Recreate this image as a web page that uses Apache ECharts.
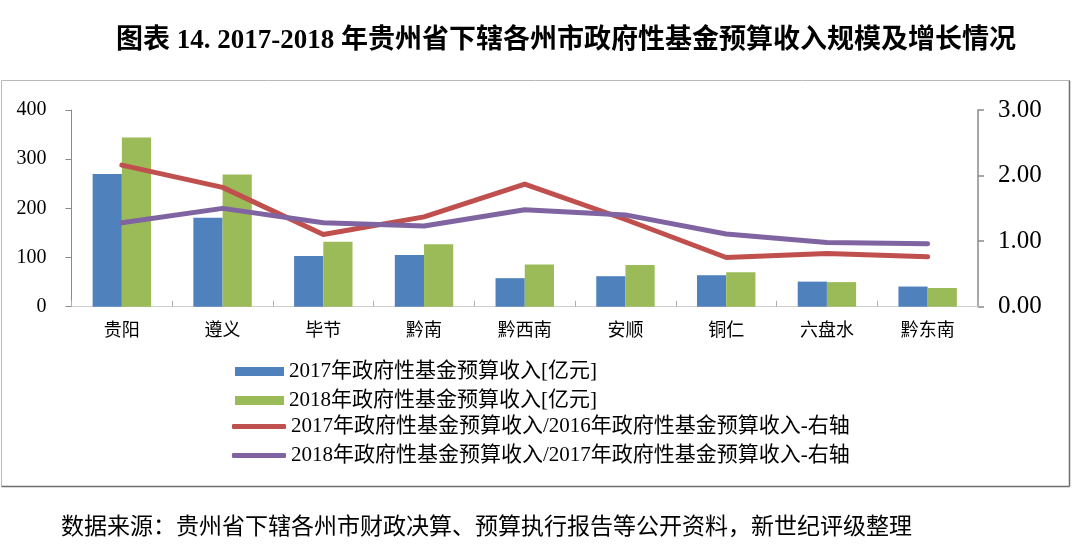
<!DOCTYPE html>
<html>
<head>
<meta charset="utf-8">
<script src="https://cdn.jsdelivr.net/npm/echarts@6/dist/echarts.min.js"></script>
<style>html,body{margin:0;padding:0;background:#fff;}#c{width:1080px;height:559px;}</style>
</head>
<body>
<div id="c"></div>
<script>
const categories = ['贵阳', '遵义', '毕节', '黔南', '黔西南', '安顺', '铜仁', '六盘水', '黔东南'];
const rev2017 = [270, 181, 103, 105, 58, 62, 64, 51, 41];
const rev2018 = [344, 269, 132, 127, 86, 85, 70, 50, 38];
const ratio2017 = [2.16, 1.82, 1.10, 1.37, 1.87, 1.33, 0.75, 0.81, 0.76];
const ratio2018 = [1.28, 1.50, 1.28, 1.23, 1.48, 1.40, 1.11, 0.98, 0.96];
const seriesNames = [
  '2017年政府性基金预算收入[亿元]',
  '2018年政府性基金预算收入[亿元]',
  '2017年政府性基金预算收入/2016年政府性基金预算收入-右轴',
  '2018年政府性基金预算收入/2017年政府性基金预算收入-右轴'
];
const titleText = '图表 14. 2017-2018 年贵州省下辖各州市政府性基金预算收入规模及增长情况';
const sourceText = '数据来源：贵州省下辖各州市财政决算、预算执行报告等公开资料，新世纪评级整理';
const leftTicks = {min: 0, max: 400, interval: 100};
const rightTicks = {min: 0, max: 3, interval: 1};

const FONT = "'Liberation Serif', 'Times New Roman', 'Noto Sans CJK SC', serif";
const chart = echarts.init(document.getElementById('c'));
chart.setOption({
  animation: false,
  backgroundColor: '#fff',
  textStyle: {fontFamily: FONT, color: '#000'},
  graphic: [
    {type: 'line', shape: {x1: 1.5, y1: 80.5, x2: 1069.5, y2: 80.5}, style: {stroke: '#b8b8b8', lineWidth: 1}},
    {type: 'line', shape: {x1: 1.5, y1: 80.5, x2: 1.5, y2: 486.5}, style: {stroke: '#b8b8b8', lineWidth: 1}},
    {type: 'line', shape: {x1: 1069.5, y1: 80.5, x2: 1069.5, y2: 486.5}, style: {stroke: '#6e6e6e', lineWidth: 1.5}},
    {type: 'line', shape: {x1: 1.5, y1: 486.5, x2: 1069.5, y2: 486.5}, style: {stroke: '#6e6e6e', lineWidth: 1.5}},
    {type: 'text', x: 566, y: 41, style: {text: titleText, font: "bold 27px " + FONT, fill: '#000', textAlign: 'center', textVerticalAlign: 'middle'}},
    {type: 'text', x: 61, y: 528, style: {text: sourceText, font: "23px " + FONT, fill: '#000', textAlign: 'left', textVerticalAlign: 'middle'}}
  ],
  legend: [
    {
      orient: 'vertical', left: 235, top: 361, padding: 0, itemWidth: 49, itemHeight: 9, itemGap: 8,
      data: [{name: seriesNames[0], icon: 'rect'}, {name: seriesNames[1], icon: 'rect'}],
      textStyle: {fontFamily: FONT, fontSize: 21, color: '#000', lineHeight: 20},
      selectedMode: false
    },
    {
      orient: 'vertical', left: 232, top: 416, padding: 0, itemWidth: 54, itemHeight: 5, itemGap: 8,
      data: [{name: seriesNames[2], icon: 'roundRect'}, {name: seriesNames[3], icon: 'roundRect'}],
      textStyle: {fontFamily: FONT, fontSize: 21, color: '#000', lineHeight: 20},
      selectedMode: false
    }
  ],
  grid: {left: 71.5, right: 102, top: 110, bottom: 252.3, containLabel: false},
  xAxis: {
    type: 'category', data: categories,
    axisLine: {lineStyle: {color: '#d0d0d0', width: 1}},
    axisTick: {show: true, inside: true, length: 6, lineStyle: {color: '#b0b0b0'}},
    axisLabel: {fontFamily: FONT, fontSize: 18, color: '#000', margin: 16},
    splitLine: {show: false}
  },
  yAxis: [
    {
      type: 'value', min: leftTicks.min, max: leftTicks.max, interval: leftTicks.interval, position: 'left',
      axisLine: {show: true, lineStyle: {color: '#8a8a8a', width: 1}},
      axisTick: {show: true, length: 6, lineStyle: {color: '#8a8a8a'}},
      axisLabel: {fontFamily: FONT, fontSize: 20, color: '#000', margin: 25},
      splitLine: {show: false}
    },
    {
      type: 'value', min: rightTicks.min, max: rightTicks.max, interval: rightTicks.interval, position: 'right',
      axisLine: {show: true, lineStyle: {color: '#8a8a8a', width: 1.5}},
      axisTick: {show: true, length: 6, lineStyle: {color: '#8a8a8a', width: 1.5}},
      axisLabel: {fontFamily: FONT, fontSize: 25, color: '#000', margin: 20, formatter: v => v.toFixed(2)},
      splitLine: {show: false}
    }
  ],
  series: [
    {name: seriesNames[0], type: 'bar', yAxisIndex: 0, data: rev2017, barGap: '0%', barCategoryGap: '42%', itemStyle: {color: '#4F81BD'}},
    {name: seriesNames[1], type: 'bar', yAxisIndex: 0, data: rev2018, barGap: '0%', barCategoryGap: '42%', itemStyle: {color: '#9BBB59'}},
    {name: seriesNames[2], type: 'line', yAxisIndex: 1, data: ratio2017, symbol: 'none', lineStyle: {color: '#C0504D', width: 5, cap: 'round', join: 'round'}, itemStyle: {color: '#C0504D'}, z: 3},
    {name: seriesNames[3], type: 'line', yAxisIndex: 1, data: ratio2018, symbol: 'none', lineStyle: {color: '#8064A2', width: 5, cap: 'round', join: 'round'}, itemStyle: {color: '#8064A2'}, z: 4}
  ]
});
</script>
</body>
</html>
